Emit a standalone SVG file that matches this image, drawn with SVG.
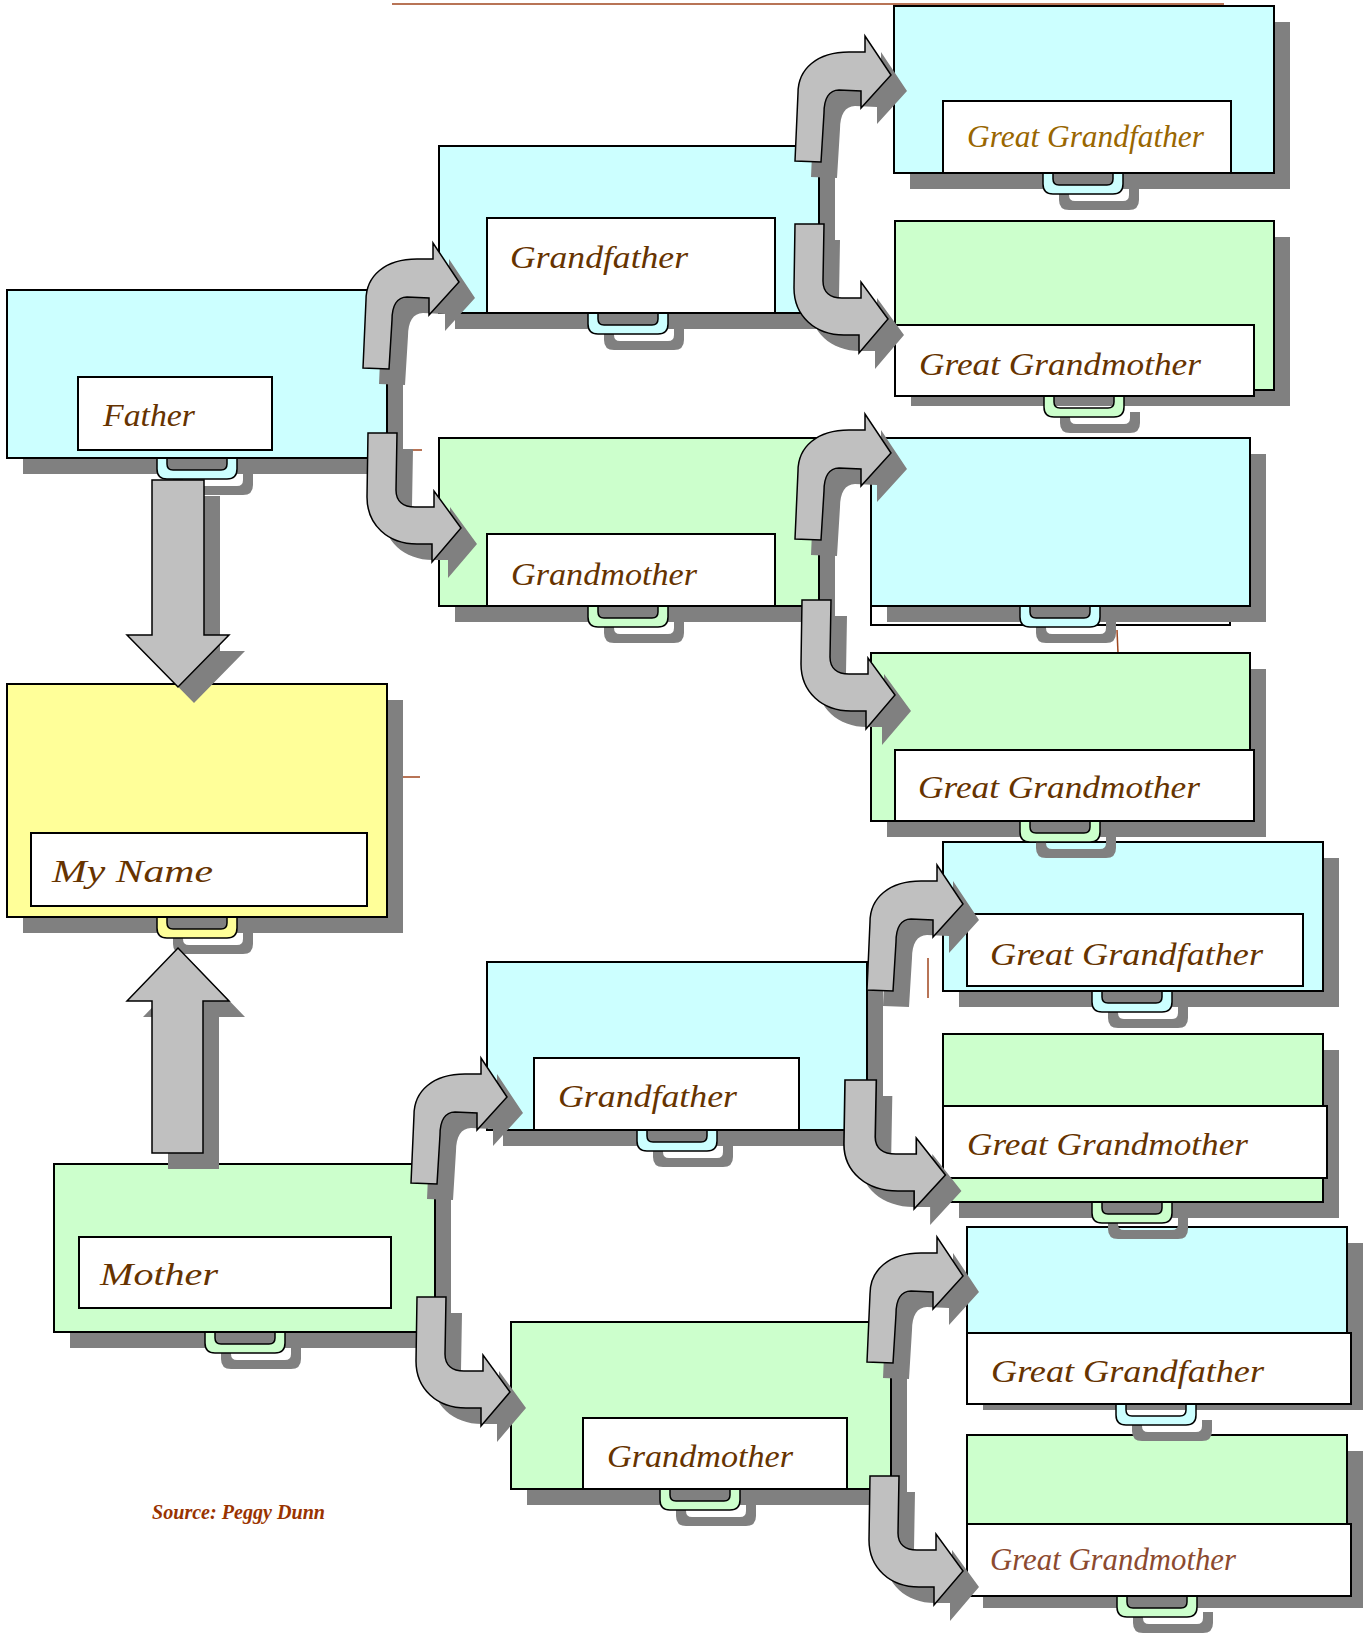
<svg xmlns="http://www.w3.org/2000/svg" xmlns:xlink="http://www.w3.org/1999/xlink" width="1364" height="1638" viewBox="0 0 1364 1638">
<style>
.sh{fill:#808080;stroke:none}
.cy{fill:#CCFFFF;stroke:#000;stroke-width:2}
.gr{fill:#CCFFCC;stroke:#000;stroke-width:2}
.ye{fill:#FFFF99;stroke:#000;stroke-width:2}
.lb{fill:#FFFFFF;stroke:#000;stroke-width:2}
.tabc{stroke:#000;stroke-width:1.5;stroke-linejoin:round}
.tx{font-family:"Liberation Serif","DejaVu Serif",serif;font-style:italic;font-size:32px;fill:#663300}
.ar{fill:#C0C0C0;stroke:#000;stroke-width:1.5;stroke-linejoin:miter}
.mk{stroke:#A0461E;stroke-width:1.5;fill:none}
</style>
<defs>
<path id="tab" d="M-40,0 V11 Q-40,21 -30,21 H30 Q40,21 40,11 V0 H30 V6 Q30,12 24,12 H-24 Q-30,12 -30,6 V0 Z"/>
<path id="au" d="M0,0 L3,-68 C3,-92 22,-109 54,-109 L70,-109 L70,-125 L96,-86 L66,-53 L66,-70 L44,-71 C34,-71 29,-62 29,-48 L26,1 Z"/>
<path id="ad" d="M0,0 L-1,64 C-1,92 20,111 49,111 L64,111 L64,129 L93,95 L66,58 L66,74 L47,74 C35,74 28,68 28,57 L29,0 Z"/>
</defs>
<g id="marks">
<line class="mk" x1="392" y1="4" x2="1224" y2="4" stroke-width="2"/>
<line class="mk" x1="403" y1="450" x2="422" y2="450"/>
<line class="mk" x1="403" y1="777" x2="420" y2="777"/>
<line class="mk" x1="1117" y1="630" x2="1118" y2="653"/>
<line class="mk" x1="928" y1="958" x2="928" y2="998"/>
</g>
<g id="matGGM4">
<rect class="sh" x="983" y="1451" width="380" height="157"/>
<use href="#tab" x="1173" y="1612" class="sh"/>
<use href="#tab" x="1157" y="1596" class="tabc" fill="#CCFFCC"/>
<rect class="gr" x="967" y="1435" width="380" height="157"/>
<rect class="lb" x="967" y="1524" width="384" height="72"/>
<text class="tx" x="990" y="1570" font-size="29" textLength="246" lengthAdjust="spacingAndGlyphs" fill="#8C4A2F" style="fill:#8C4A2F">Great Grandmother</text>
</g>
<g id="matGGF3">
<rect class="sh" x="983" y="1243" width="380" height="167"/>
<use href="#tab" x="1172" y="1420" class="sh"/>
<use href="#tab" x="1156" y="1404" class="tabc" fill="#CCFFFF"/>
<rect class="cy" x="967" y="1227" width="380" height="167"/>
<rect class="lb" x="967" y="1333" width="384" height="71"/>
<text class="tx" x="991" y="1382" textLength="273" lengthAdjust="spacingAndGlyphs">Great Grandfather</text>
</g>
<g id="matGM">
<rect class="sh" x="527" y="1338" width="380" height="167"/>
<use href="#tab" x="716" y="1505" class="sh"/>
<use href="#tab" x="700" y="1489" class="tabc" fill="#CCFFCC"/>
<rect class="gr" x="511" y="1322" width="380" height="167"/>
<rect class="lb" x="583" y="1418" width="264" height="71"/>
<text class="tx" x="607" y="1467" textLength="186" lengthAdjust="spacingAndGlyphs">Grandmother</text>
</g>
<g id="mother">
<rect class="sh" x="70" y="1180" width="381" height="168"/>
<use href="#tab" x="261" y="1348" class="sh"/>
<use href="#tab" x="245" y="1332" class="tabc" fill="#CCFFCC"/>
<rect class="gr" x="54" y="1164" width="381" height="168"/>
<rect class="lb" x="79" y="1237" width="312" height="71"/>
<text class="tx" x="100" y="1285" font-size="34" textLength="118" lengthAdjust="spacingAndGlyphs">Mother</text>
</g>
<g id="matGGM2">
<rect class="sh" x="959" y="1050" width="380" height="168"/>
<use href="#tab" x="1148" y="1218" class="sh"/>
<use href="#tab" x="1132" y="1202" class="tabc" fill="#CCFFCC"/>
<rect class="gr" x="943" y="1034" width="380" height="168"/>
<rect class="lb" x="943" y="1106" width="384" height="72"/>
<text class="tx" x="967" y="1155" textLength="281" lengthAdjust="spacingAndGlyphs">Great Grandmother</text>
</g>
<g id="matGGF1">
<rect class="sh" x="959" y="858" width="380" height="149"/>
<use href="#tab" x="1148" y="1007" class="sh"/>
<use href="#tab" x="1132" y="991" class="tabc" fill="#CCFFFF"/>
<rect class="cy" x="943" y="842" width="380" height="149"/>
<rect class="lb" x="967" y="914" width="336" height="72"/>
<text class="tx" x="990" y="965" textLength="273" lengthAdjust="spacingAndGlyphs">Great Grandfather</text>
</g>
<g id="matGF">
<rect class="sh" x="503" y="978" width="380" height="168"/>
<use href="#tab" x="693" y="1146" class="sh"/>
<use href="#tab" x="677" y="1130" class="tabc" fill="#CCFFFF"/>
<rect class="cy" x="487" y="962" width="380" height="168"/>
<rect class="lb" x="534" y="1058" width="265" height="72"/>
<text class="tx" x="558" y="1107" textLength="179" lengthAdjust="spacingAndGlyphs">Grandfather</text>
</g>
<g id="myName">
<rect class="sh" x="23" y="700" width="380" height="233"/>
<use href="#tab" x="213" y="933" class="sh"/>
<use href="#tab" x="197" y="917" class="tabc" fill="#FFFF99"/>
<rect class="ye" x="7" y="684" width="380" height="233"/>
<rect class="lb" x="31" y="833" width="336" height="73"/>
<text class="tx" x="52" y="882" font-size="36" textLength="161" lengthAdjust="spacingAndGlyphs">My Name</text>
</g>
<g id="patGGM4">
<rect class="sh" x="887" y="669" width="379" height="168"/>
<use href="#tab" x="1076" y="837" class="sh"/>
<use href="#tab" x="1060" y="821" class="tabc" fill="#CCFFCC"/>
<rect class="gr" x="871" y="653" width="379" height="168"/>
<rect class="lb" x="895" y="750" width="359" height="71"/>
<text class="tx" x="918" y="798" textLength="282" lengthAdjust="spacingAndGlyphs">Great Grandmother</text>
</g>
<g id="patGGF3">
<rect class="lb" x="871" y="540" width="359" height="85"/>
<rect class="sh" x="887" y="454" width="379" height="168"/>
<use href="#tab" x="1076" y="622" class="sh"/>
<use href="#tab" x="1060" y="606" class="tabc" fill="#CCFFFF"/>
<rect class="cy" x="871" y="438" width="379" height="168"/>
</g>
<g id="patGM">
<rect class="sh" x="455" y="454" width="380" height="168"/>
<use href="#tab" x="644" y="622" class="sh"/>
<use href="#tab" x="628" y="606" class="tabc" fill="#CCFFCC"/>
<rect class="gr" x="439" y="438" width="380" height="168"/>
<rect class="lb" x="487" y="534" width="288" height="72"/>
<text class="tx" x="511" y="585" textLength="186" lengthAdjust="spacingAndGlyphs">Grandmother</text>
</g>
<g id="topGGM">
<rect class="sh" x="911" y="237" width="379" height="169"/>
<use href="#tab" x="1100" y="412" class="sh"/>
<use href="#tab" x="1084" y="396" class="tabc" fill="#CCFFCC"/>
<rect class="gr" x="895" y="221" width="379" height="169"/>
<rect class="lb" x="895" y="325" width="359" height="71"/>
<text class="tx" x="919" y="375" textLength="282" lengthAdjust="spacingAndGlyphs">Great Grandmother</text>
</g>
<g id="patGF">
<rect class="sh" x="455" y="162" width="380" height="167"/>
<use href="#tab" x="644" y="329" class="sh"/>
<use href="#tab" x="628" y="313" class="tabc" fill="#CCFFFF"/>
<rect class="cy" x="439" y="146" width="380" height="167"/>
<rect class="lb" x="487" y="218" width="288" height="95"/>
<text class="tx" x="510" y="268" textLength="178" lengthAdjust="spacingAndGlyphs">Grandfather</text>
</g>
<g id="father">
<rect class="sh" x="23" y="306" width="380" height="168"/>
<use href="#tab" x="213" y="474" class="sh"/>
<use href="#tab" x="197" y="458" class="tabc" fill="#CCFFFF"/>
<rect class="cy" x="7" y="290" width="380" height="168"/>
<rect class="lb" x="78" y="377" width="194" height="73"/>
<text class="tx" x="103" y="426" textLength="92" lengthAdjust="spacingAndGlyphs">Father</text>
</g>
<g id="topGGF">
<rect class="sh" x="910" y="22" width="380" height="167"/>
<use href="#tab" x="1099" y="189" class="sh"/>
<use href="#tab" x="1083" y="173" class="tabc" fill="#CCFFFF"/>
<rect class="cy" x="894" y="6" width="380" height="167"/>
<rect class="lb" x="943" y="101" width="288" height="72"/>
<text class="tx" x="967" y="147" font-size="29" textLength="237" lengthAdjust="spacingAndGlyphs" style="fill:#996600">Great Grandfather</text>
</g>
<g id="connectors">
<g id="arrow-shadows">
<path class="sh" d="M168,496 L220,496 L220,651 L245,651 L194,703 L143,651 L168,651 Z"/>
<path class="sh" d="M168,1169 L219,1169 L219,1017 L245,1017 L194,964 L143,1017 L168,1017 Z"/>
<use href="#au" class="sh" transform="translate(379,384)"/>
<use href="#ad" class="sh" transform="translate(384,449)"/>
<use href="#au" class="sh" transform="translate(811,177)"/>
<use href="#ad" class="sh" transform="translate(811,240)"/>
<use href="#au" class="sh" transform="translate(811,555)"/>
<use href="#ad" class="sh" transform="translate(818,616)"/>
<use href="#au" class="sh" transform="translate(427,1199)"/>
<use href="#ad" class="sh" transform="translate(433,1313)"/>
<use href="#au" class="sh" transform="translate(883,1006)"/>
<use href="#ad" class="sh" transform="translate(861,1096) scale(1.08,1)"/>
<use href="#au" class="sh" transform="translate(883,1378)"/>
<use href="#ad" class="sh" transform="translate(886,1492)"/>
</g>
<g id="arrows">
<path class="ar" d="M152,480 L204,480 L204,635 L229,635 L178,687 L127,635 L152,635 Z"/>
<path class="ar" d="M152,1153 L203,1153 L203,1001 L229,1001 L178,948 L127,1001 L152,1001 Z"/>
<use href="#au" class="ar" transform="translate(363,368)"/>
<use href="#ad" class="ar" transform="translate(368,433)"/>
<use href="#au" class="ar" transform="translate(795,161)"/>
<use href="#ad" class="ar" transform="translate(795,224)"/>
<use href="#au" class="ar" transform="translate(795,539)"/>
<use href="#ad" class="ar" transform="translate(802,600)"/>
<use href="#au" class="ar" transform="translate(411,1183)"/>
<use href="#ad" class="ar" transform="translate(417,1297)"/>
<use href="#au" class="ar" transform="translate(867,990)"/>
<use href="#ad" class="ar" transform="translate(845,1080) scale(1.08,1)"/>
<use href="#au" class="ar" transform="translate(867,1362)"/>
<use href="#ad" class="ar" transform="translate(870,1476)"/>
</g>
</g>
<text x="152" y="1519" font-family="Liberation Serif, serif" font-style="italic" font-weight="bold" font-size="21" fill="#993300" textLength="173" lengthAdjust="spacingAndGlyphs">Source: Peggy Dunn</text>
</svg>
